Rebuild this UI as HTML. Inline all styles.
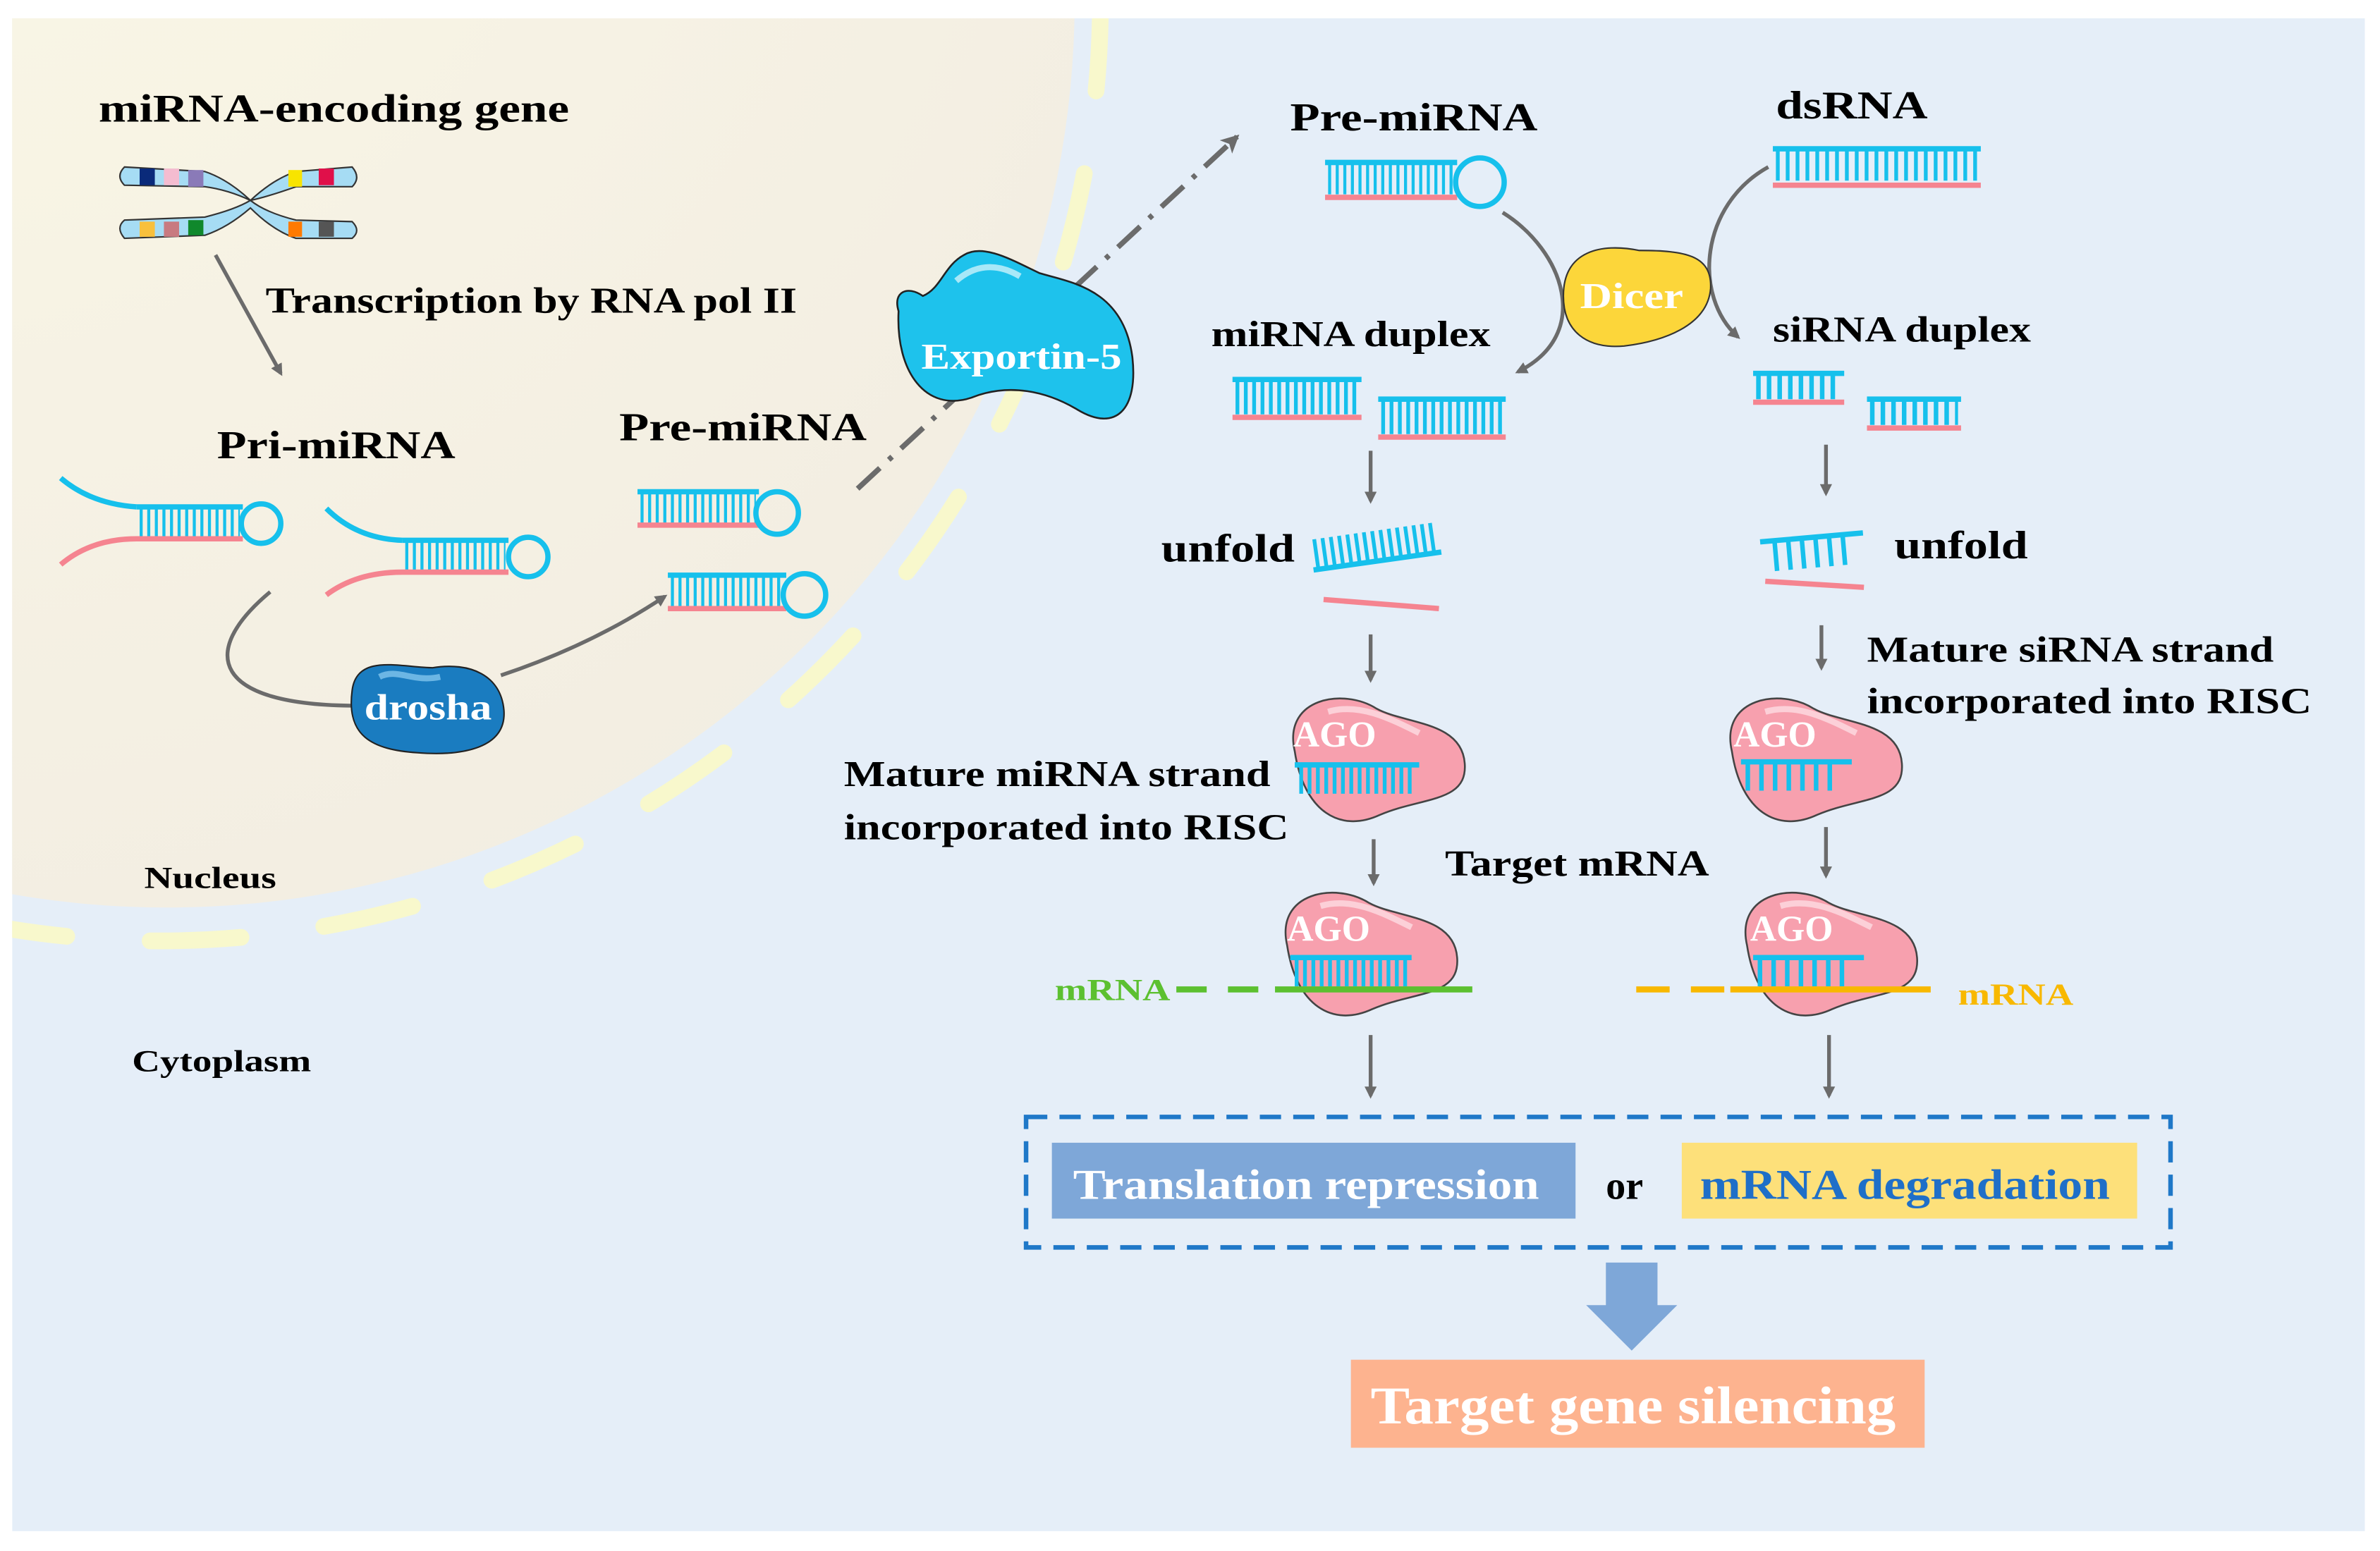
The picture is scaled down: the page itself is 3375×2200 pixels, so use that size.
<!DOCTYPE html>
<html><head><meta charset="utf-8"><style>
html,body{margin:0;padding:0;background:#fff}
svg{display:block}
svg text{font-family:"Liberation Serif","Times New Roman",serif;font-weight:bold}
</style></head><body>
<svg width="3375" height="2200" viewBox="0 0 1568 1022" xmlns="http://www.w3.org/2000/svg">
<defs>
<radialGradient id="nuc" cx="0.35" cy="0.3" r="0.8">
<stop offset="0" stop-color="#fbf8e6"/><stop offset="1" stop-color="#f2ede2"/></radialGradient>
<clipPath id="panel"><rect x="8" y="12" width="1550" height="997"/></clipPath>
<marker id="ah" markerWidth="8" markerHeight="8" refX="6" refY="4" orient="auto" markerUnits="userSpaceOnUse">
<path d="M0,0 L8,4 L0,8 Z" fill="#6b6b6b"/></marker>
<marker id="ah2" markerWidth="14" markerHeight="14" refX="10" refY="7" orient="auto" markerUnits="userSpaceOnUse">
<path d="M0,1 L12,7 L0,13 L3,7 Z" fill="#6b6b6b"/></marker>
<g id="ago">
<path d="M8,40 C0,5 40,-2 62,12 C80,22 118,20 120,48 C122,74 92,70 64,82 C38,94 14,80 8,40Z" fill="#f7a0ae" stroke="#444" stroke-width="1.2"/>
<path d="M30,14 C50,8 70,18 90,28" stroke="#fcd0d8" stroke-width="4" fill="none"/>
</g>
</defs>
<rect width="1568" height="1022" fill="#fff"/>
<g clip-path="url(#panel)">
<rect x="8" y="12" width="1550" height="997" fill="#e5eef8"/>
<circle cx="110" cy="0" r="598" fill="url(#nuc)"/>
<circle cx="105" cy="0" r="620" fill="none" stroke="#f8f8cc" stroke-width="11" stroke-linecap="round" stroke-dasharray="60 55"/>
</g>

<text x="65" y="80" font-size="26" textLength="310" lengthAdjust="spacingAndGlyphs">miRNA-encoding gene</text>
<g stroke="#333" stroke-width="1">
<path d="M82,110 L135,113 Q150,118 165,132 Q180,118 195,113 L232,110 Q238,117 232,123 L195,123 Q175,130 165,132 Q175,140 195,145 L232,146 Q238,152 232,157 L195,157 Q180,152 165,137 Q150,150 135,155 L82,157 Q76,150 82,145 L135,143 Q155,138 165,132 Q150,125 135,123 L82,122 Q76,116 82,110Z" fill="#a6dcf4"/>
</g>
<g stroke="none">
<rect x="92" y="111" width="10" height="11" fill="#0a2a7a"/><rect x="108" y="111" width="10" height="11" fill="#f4bcd0"/><rect x="124" y="112" width="10" height="11" fill="#8a7ab8"/>
<rect x="190" y="112" width="9" height="11" fill="#f8e400"/><rect x="210" y="111" width="10" height="11" fill="#e0104a"/>
<rect x="92" y="146" width="10" height="10" fill="#f8c03c"/><rect x="108" y="146" width="10" height="10" fill="#c87a80"/><rect x="124" y="145" width="10" height="10" fill="#10882c"/>
<rect x="190" y="146" width="9" height="10" fill="#ff7a00"/><rect x="210" y="146" width="10" height="10" fill="#555"/>
</g>
<line x1="142" y1="168" x2="185" y2="246" stroke="#6b6b6b" stroke-width="2.5" marker-end="url(#ah)"/>
<text x="175" y="206" font-size="24" textLength="350" lengthAdjust="spacingAndGlyphs">Transcription by RNA pol II</text>
<text x="143" y="302" font-size="26" textLength="157" lengthAdjust="spacingAndGlyphs">Pri-miRNA</text>

<g fill="none" stroke-width="3.5">
<path d="M40,315 Q60,332 90,334" stroke="#16c0ec"/><line x1="90" y1="334" x2="160" y2="334" stroke="#16c0ec"/>
<line x1="92" y1="344" x2="158" y2="344" stroke="#16c0ec" stroke-width="20" stroke-dasharray="2 3"/>
<path d="M40,372 Q60,355 90,355 L160,355" stroke="#f58490"/>
<circle cx="172" cy="345" r="13" stroke="#16c0ec"/>
<path d="M215,335 Q235,355 265,356" stroke="#16c0ec"/><line x1="265" y1="356" x2="335" y2="356" stroke="#16c0ec"/>
<line x1="267" y1="366" x2="333" y2="366" stroke="#16c0ec" stroke-width="20" stroke-dasharray="2 3"/>
<path d="M215,392 Q235,377 265,377 L335,377" stroke="#f58490"/>
<circle cx="348" cy="367" r="13" stroke="#16c0ec"/>
</g>
<path d="M178,390 C130,430 140,465 235,465" fill="none" stroke="#6b6b6b" stroke-width="2.5"/>
<path d="M330,445 Q390,425 438,393" fill="none" stroke="#6b6b6b" stroke-width="2.5" marker-end="url(#ah)"/>
<path d="M232,455 C235,430 265,440 285,440 C310,436 330,445 332,468 C334,495 300,498 275,496 C245,494 228,485 232,455Z" fill="#1a7cc0" stroke="#222" stroke-width="1"/>
<path d="M250,446 C262,440 272,450 290,446" stroke="#6cb6e4" stroke-width="4" fill="none"/>
<text x="282" y="474" font-size="24" fill="#fff" text-anchor="middle" textLength="84" lengthAdjust="spacingAndGlyphs">drosha</text>

<text x="408" y="290" font-size="26" textLength="163" lengthAdjust="spacingAndGlyphs">Pre-miRNA</text>
<g fill="none" stroke-width="3.5">
<line x1="420" y1="324" x2="500" y2="324" stroke="#16c0ec"/>
<line x1="422" y1="335" x2="498" y2="335" stroke="#16c0ec" stroke-width="20" stroke-dasharray="2 3"/>
<line x1="420" y1="346" x2="500" y2="346" stroke="#f58490"/>
<circle cx="512" cy="338" r="14" stroke="#16c0ec"/>
<line x1="440" y1="379" x2="518" y2="379" stroke="#16c0ec"/>
<line x1="442" y1="390" x2="516" y2="390" stroke="#16c0ec" stroke-width="20" stroke-dasharray="2 3"/>
<line x1="440" y1="401" x2="518" y2="401" stroke="#f58490"/>
<circle cx="530" cy="392" r="14" stroke="#16c0ec"/>
</g>
<line x1="565" y1="322" x2="815" y2="90" stroke="#6b6b6b" stroke-width="3.5" stroke-dasharray="20 8 3 8" marker-end="url(#ah2)"/>
<path d="M592,205 C588,192 598,188 608,195 C620,190 622,175 635,168 C648,160 668,172 685,180 C705,186 740,190 746,235 C750,270 735,285 710,270 C690,258 665,252 640,262 C610,272 590,245 592,205Z" fill="#1ec2ec" stroke="#222" stroke-width="1.2"/>
<path d="M630,185 C645,172 660,175 672,182" stroke="#a8e8f8" stroke-width="4" fill="none"/>
<text x="673" y="243" font-size="24" fill="#fff" text-anchor="middle" textLength="132" lengthAdjust="spacingAndGlyphs">Exportin-5</text>
<text x="95" y="585" font-size="20" textLength="87" lengthAdjust="spacingAndGlyphs">Nucleus</text>
<text x="87" y="706" font-size="20" textLength="118" lengthAdjust="spacingAndGlyphs">Cytoplasm</text>

<text x="850" y="86" font-size="26" textLength="163" lengthAdjust="spacingAndGlyphs">Pre-miRNA</text>
<text x="1170" y="78" font-size="26" textLength="100" lengthAdjust="spacingAndGlyphs">dsRNA</text>
<g fill="none" stroke-width="3.5">
<line x1="873" y1="107" x2="960" y2="107" stroke="#16c0ec"/>
<line x1="875" y1="118" x2="958" y2="118" stroke="#16c0ec" stroke-width="20" stroke-dasharray="2 3"/>
<line x1="873" y1="130" x2="960" y2="130" stroke="#f58490"/>
<circle cx="975" cy="120" r="16" stroke="#16c0ec"/>
<line x1="1168" y1="98" x2="1305" y2="98" stroke="#16c0ec"/>
<line x1="1170" y1="109" x2="1303" y2="109" stroke="#16c0ec" stroke-width="20" stroke-dasharray="2.5 4"/>
<line x1="1168" y1="122" x2="1305" y2="122" stroke="#f58490"/>
</g>
<path d="M990,140 C1030,165 1050,220 1000,245" fill="none" stroke="#6b6b6b" stroke-width="2.5" marker-end="url(#ah)"/>
<path d="M1165,110 C1120,135 1115,195 1145,222" fill="none" stroke="#6b6b6b" stroke-width="2.5" marker-end="url(#ah)"/>
<path d="M1030,195 C1030,165 1055,160 1080,165 C1110,165 1128,168 1127,190 C1125,215 1095,225 1070,228 C1045,230 1030,218 1030,195Z" fill="#fcd63a" stroke="#333" stroke-width="1"/>
<text x="1075" y="203" font-size="24" fill="#fff" text-anchor="middle" textLength="68" lengthAdjust="spacingAndGlyphs">Dicer</text>

<text x="798" y="228" font-size="24" textLength="184" lengthAdjust="spacingAndGlyphs">miRNA duplex</text>
<text x="1168" y="225" font-size="24" textLength="170" lengthAdjust="spacingAndGlyphs">siRNA duplex</text>
<g fill="none" stroke-width="3.5">
<line x1="812" y1="250" x2="897" y2="250" stroke="#16c0ec"/>
<line x1="814" y1="262" x2="895" y2="262" stroke="#16c0ec" stroke-width="22" stroke-dasharray="2.5 3"/>
<line x1="812" y1="275" x2="897" y2="275" stroke="#f58490"/>
<line x1="908" y1="263" x2="992" y2="263" stroke="#16c0ec"/>
<line x1="910" y1="275" x2="990" y2="275" stroke="#16c0ec" stroke-width="22" stroke-dasharray="2.5 3"/>
<line x1="908" y1="288" x2="992" y2="288" stroke="#f58490"/>
<line x1="1155" y1="246" x2="1215" y2="246" stroke="#16c0ec"/>
<line x1="1157" y1="255" x2="1213" y2="255" stroke="#16c0ec" stroke-width="16" stroke-dasharray="3 4"/>
<line x1="1155" y1="265" x2="1215" y2="265" stroke="#f58490"/>
<line x1="1230" y1="263" x2="1292" y2="263" stroke="#16c0ec"/>
<line x1="1232" y1="272" x2="1290" y2="272" stroke="#16c0ec" stroke-width="16" stroke-dasharray="3 4"/>
<line x1="1230" y1="282" x2="1292" y2="282" stroke="#f58490"/>
</g>
<g stroke="#6b6b6b" stroke-width="2.5" marker-end="url(#ah)">
<line x1="903" y1="297" x2="903" y2="330"/>
<line x1="1203" y1="293" x2="1203" y2="325"/>
<line x1="903" y1="418" x2="903" y2="448"/>
<line x1="1200" y1="412" x2="1200" y2="440"/>
<line x1="905" y1="553" x2="905" y2="582"/>
<line x1="1203" y1="545" x2="1203" y2="577"/>
<line x1="903" y1="682" x2="903" y2="722"/>
<line x1="1205" y1="682" x2="1205" y2="722"/>
</g>
<text x="765" y="370" font-size="26" textLength="88" lengthAdjust="spacingAndGlyphs">unfold</text>
<text x="1248" y="368" font-size="26" textLength="88" lengthAdjust="spacingAndGlyphs">unfold</text>
<g fill="none" stroke-width="3.5">
<g transform="rotate(-8 905 370)">
<line x1="865" y1="370" x2="950" y2="370" stroke="#16c0ec"/>
<line x1="867" y1="360" x2="948" y2="360" stroke="#16c0ec" stroke-width="20" stroke-dasharray="2.5 3"/>
</g>
<line x1="872" y1="395" x2="948" y2="401" stroke="#f58490"/>
<g transform="rotate(-5 1195 360)">
<line x1="1160" y1="354" x2="1228" y2="354" stroke="#16c0ec"/>
<line x1="1168" y1="364" x2="1222" y2="364" stroke="#16c0ec" stroke-width="20" stroke-dasharray="3 6"/>
</g>
<line x1="1163" y1="383" x2="1228" y2="387" stroke="#f58490"/>
</g>
<text x="1230" y="436" font-size="24" textLength="268" lengthAdjust="spacingAndGlyphs">Mature siRNA strand</text>
<text x="1230" y="470" font-size="24" textLength="293" lengthAdjust="spacingAndGlyphs">incorporated into RISC</text>
<text x="556" y="518" font-size="24" textLength="281" lengthAdjust="spacingAndGlyphs">Mature miRNA strand</text>
<text x="556" y="553" font-size="24" textLength="293" lengthAdjust="spacingAndGlyphs">incorporated into RISC</text>
<text x="952" y="577" font-size="24" textLength="174" lengthAdjust="spacingAndGlyphs">Target mRNA</text>

<use href="#ago" x="845" y="455"/>
<use href="#ago" x="1133" y="455"/>
<use href="#ago" x="840" y="583"/>
<use href="#ago" x="1143" y="583"/>
<g font-size="24" fill="#fff">
<text x="852" y="492">AGO</text><text x="1142" y="492">AGO</text>
<text x="848" y="620">AGO</text><text x="1153" y="620">AGO</text>
</g>
<g fill="none" stroke-width="3.5" stroke="#16c0ec">
<line x1="853" y1="504" x2="935" y2="504"/>
<line x1="856" y1="514" x2="933" y2="514" stroke-width="18" stroke-dasharray="2.5 3"/>
<line x1="1147" y1="502" x2="1220" y2="502"/>
<line x1="1150" y1="512" x2="1208" y2="512" stroke-width="18" stroke-dasharray="3 6"/>
<line x1="850" y1="631" x2="930" y2="631"/>
<line x1="853" y1="641" x2="928" y2="641" stroke-width="18" stroke-dasharray="2.5 3"/>
<line x1="1155" y1="631" x2="1228" y2="631"/>
<line x1="1158" y1="641" x2="1216" y2="641" stroke-width="18" stroke-dasharray="3 6"/>
</g>
<line x1="775" y1="652" x2="840" y2="652" stroke="#5cc030" stroke-width="4" stroke-dasharray="20 14"/>
<line x1="840" y1="652" x2="970" y2="652" stroke="#5cc030" stroke-width="4"/>
<text x="695" y="659" font-size="20" fill="#5cc030" textLength="76" lengthAdjust="spacingAndGlyphs">mRNA</text>
<line x1="1078" y1="652" x2="1140" y2="652" stroke="#f8b800" stroke-width="4" stroke-dasharray="22 14"/>
<line x1="1140" y1="652" x2="1272" y2="652" stroke="#f8b800" stroke-width="4"/>
<text x="1290" y="662" font-size="20" fill="#f8b800" textLength="76" lengthAdjust="spacingAndGlyphs">mRNA</text>

<rect x="676" y="736" width="754" height="86" fill="none" stroke="#1f78c8" stroke-width="3" stroke-dasharray="14 8"/>
<rect x="693" y="753" width="345" height="50" fill="#7ea7d8"/>
<text x="707" y="790" font-size="28" fill="#fff" textLength="307" lengthAdjust="spacingAndGlyphs">Translation repression</text>
<text x="1058" y="790" font-size="26">or</text>
<rect x="1108" y="753" width="300" height="50" fill="#fde07a"/>
<text x="1120" y="790" font-size="28" fill="#1f6fc8" textLength="270" lengthAdjust="spacingAndGlyphs">mRNA degradation</text>
<path d="M1058,832 L1092,832 L1092,860 L1105,860 L1075,890 L1045,860 L1058,860Z" fill="#7ea7d8"/>
<rect x="890" y="896" width="378" height="58" fill="#fdb38f"/>
<text x="903" y="938" font-size="35" fill="#fff" textLength="346" lengthAdjust="spacingAndGlyphs">Target gene silencing</text>
</svg>
</body></html>
